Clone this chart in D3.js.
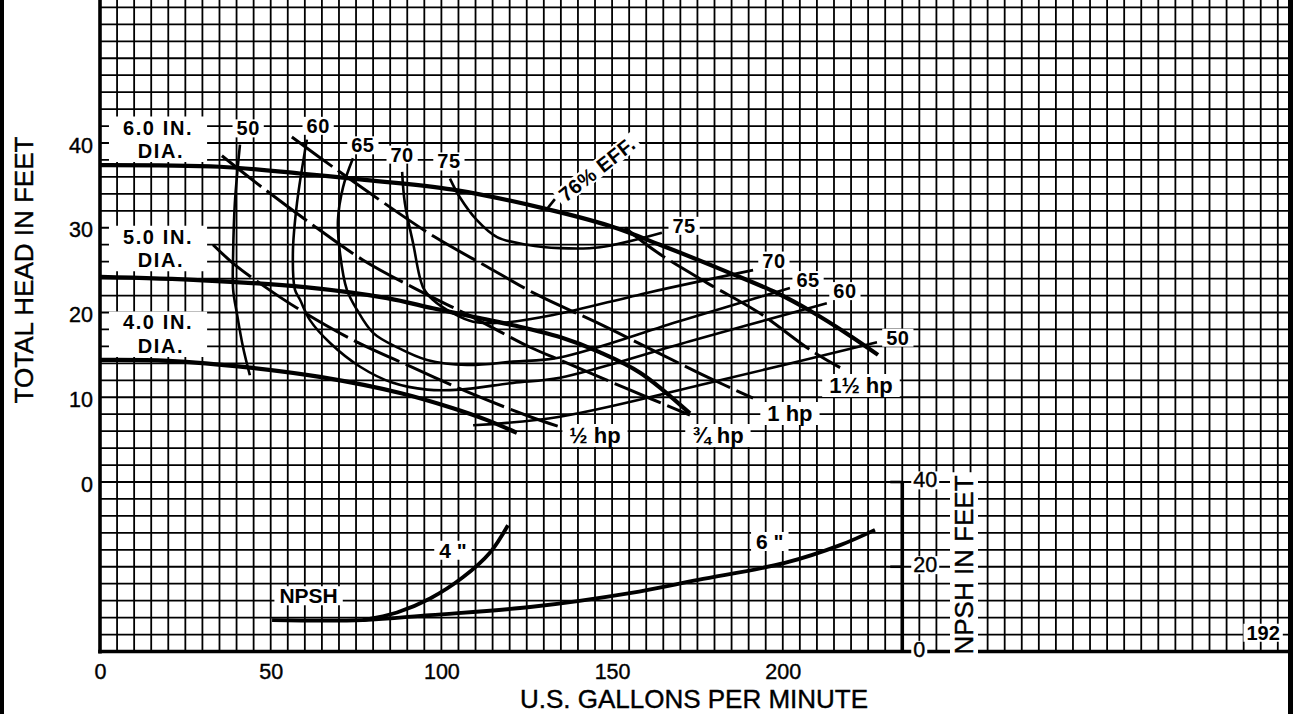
<!DOCTYPE html>
<html>
<head>
<meta charset="utf-8">
<script src="https://cdn.jsdelivr.net/npm/d3@7"></script>
<style>
  body { margin: 0; background: #fff; }
  svg { display: block; }
</style>
</head>
<body>
<script>

// ==== Data: flow in U.S. gpm, head and NPSH in feet ====

var flowTicks = [0, 50, 100, 150, 200],
    headTicks = [0, 10, 20, 30, 40],
    npshTicks = [0, 20, 40];

// impeller head curves
var head6in = [[0,37.4],[35.1,37.2],[58.6,36.4],[76.2,35.7],[103.4,34.5],[130.9,32.2],[149.4,30.2],[164.0,28.0],[183.7,24.8],[198.3,22.3],[208.0,20.2],[218.8,17.5],[227.9,15.0]];
var head5in = [[0,24.2],[30,23.8],[60,23.0],[84.1,21.7],[97.5,20.5],[109.3,19.5],[121.0,18.5],[134.7,17.1],[146.5,15.3],[158.2,12.9],[172.8,8.1]];
var head4in = [[0,14.4],[20,14.3],[43.9,13.5],[64.4,12.4],[87.9,10.5],[103.4,8.7],[113.4,7.3],[122.1,5.8]];

// horsepower lines (dashed)
var hpHalf = [[33.1,28.0],[39.0,25.8],[47.7,23.2],[58.6,20.3],[75.3,16.5],[91.7,13.5],[107.8,10.6],[126.0,7.7],[134.7,6.5]];
var hpThreeQ = [[35.7,38.5],[47.7,34.7],[62.4,30.3],[77.0,26.2],[92.9,22.7],[108.4,19.6],[126.0,15.9],[134.7,14.4],[153.8,11.1],[172.8,7.9]];
var hpOne = [[56.2,40.7],[68.8,37.0],[82.9,33.0],[98.1,28.9],[113.4,25.4],[128.0,22.1],[145.6,18.8],[163.2,15.3],[177.8,12.4],[191.3,9.9]];
var hpOneHalf = [[153.8,30.0],[163.2,27.1],[177.8,23.5],[193.3,19.9],[208.0,15.6],[216.8,13.5]];

// efficiency lines
var eff50a = [[41.0,39.8],[39.5,32.9],[39.0,27.0],[39.0,22.7],[40.1,19.9],[41.9,15.9],[43.9,12.6]];
var eff50b = [[109.3,6.7],[134.7,7.7],[181.6,12.0],[227.6,16.5]];
var eff60 = [[60.6,40.4],[57.7,32.9],[56.5,27.0],[57.1,22.7],[58.6,21.5],[61.5,19.1],[67.4,16.4],[76.2,13.6],[85.8,11.7],[95.8,10.9],[105.4,10.9],[121.0,11.7],[134.7,12.3],[172.8,16.6],[212.9,21.1]];
var eff65 = [[74.1,38.2],[71.2,34.8],[69.7,30.9],[70.3,27.0],[72.3,22.7],[75.3,20.3],[80.0,17.6],[87.0,15.9],[95.8,14.4],[107.5,13.8],[121.0,14.2],[134.7,14.7],[169.9,19.0],[202.1,22.9]];
var eff70 = [[88.5,36.6],[89.3,32.9],[91.7,28.2],[94.6,23.0],[97.5,21.5],[103.4,19.9],[109.3,18.9],[118.0,18.8],[132.7,19.7],[161.1,22.4],[191.3,25.0]];
var eff75 = [[102.5,35.8],[105.4,33.6],[110.4,30.9],[116.3,28.9],[125.1,28.0],[134.7,27.6],[146.5,27.7],[164.6,29.4]];
var bestEff = [130.9, 32.2];

// NPSH curves (NPSH scale)
var npsh6in = [[50.4,7.4],[77.0,7.4],[96.7,8.6],[126.0,10.5],[155.2,13.8],[175.2,16.9],[200.6,20.9],[216.8,25.1],[227.0,28.7]];
var npsh4in = [[77.0,7.4],[87.0,9.2],[96.7,12.5],[106.3,17.5],[114.2,23.3],[119.5,29.8]];

// labels, anchored in data units (flow, head)
var diaText = [["6.0 IN.", "DIA."], ["5.0 IN.", "DIA."], ["4.0 IN.", "DIA."]],
    diaAt = [[17.0, 41.0], [17.0, 28.1], [17.0, 18.0]];
var effText = ["50", "60", "65", "70", "75", "75", "70", "65", "60", "50"],
    effAt = [[43.4,40.9],[63.9,41.2],[77.0,38.9],[88.5,37.8],[102.2,37.0],[171.1,29.4],[197.4,25.3],[207.4,23.0],[218.2,21.7],[233.7,16.2]];
var hpText = ["\u00bd hp", "\u00be hp", "1 hp", "1\u00bd hp"],
    hpAt = [[145.0,4.6],[181.0,4.6],[202.1,7.2],[222.9,10.5]];
var npshText = ["NPSH", "4 \"", "6 \""],
    npshAt = [[61.1,11.4],[103.4,22.1],[196.2,24.2]];


// ==== Canvas ====
var FONT = '"Liberation Sans", Arial, Helvetica, sans-serif';
var W = 1293, H = 714;

var svg = d3.select("body").append("svg")
    .attr("width", W)
    .attr("height", H);

var x = d3.scaleLinear().domain([0, 345]).range([100, 1277.8]);
var y = d3.scaleLinear().domain([-20, 56]).range([651.5, 7.4]);
var yN = d3.scaleLinear().domain([0, 40]).range([651.5, 482]);

var gGrid = svg.append("g"),
    gAxes = svg.append("g"),
    gBox = svg.append("g"),
    gCurves = svg.append("g"),
    gText = svg.append("g");

// white box behind a text (works for rotated text too)
function boxFor(node, px, py) {
    var b = node.getBBox(), m = node.getCTM(), root = node.ownerSVGElement;
    var pts = [[b.x - px, b.y - py], [b.x + b.width + px, b.y - py],
               [b.x + b.width + px, b.y + b.height + py], [b.x - px, b.y + b.height + py]]
        .map(function(p) {
            var pt = root.createSVGPoint();
            pt.x = p[0]; pt.y = p[1];
            pt = pt.matrixTransform(m);
            return pt.x + "," + pt.y;
        });
    gBox.append("polygon").attr("points", pts.join(" ")).attr("fill", "white");
}


// --- page frame ---
svg.append("rect").attr("x", 0).attr("y", 0).attr("width", 4).attr("height", H).attr("fill", "black");
svg.append("rect").attr("x", 1288).attr("y", 0).attr("width", 5).attr("height", H).attr("fill", "black");


// --- grid ---
gGrid.selectAll(".vg")
    .data(d3.range(5, 346, 5))
    .enter().append("line")
    .attr("x1", function(d) { return x(d); })
    .attr("x2", function(d) { return x(d); })
    .attr("y1", 0)
    .attr("y2", y(-20))
    .attr("stroke", "black")
    .attr("stroke-width", 1.8);

gGrid.selectAll(".hg")
    .data(d3.range(-18, 57, 2))
    .enter().append("line")
    .attr("x1", x(0))
    .attr("x2", 1290)
    .attr("y1", function(d) { return y(d); })
    .attr("y2", function(d) { return y(d); })
    .attr("stroke", "black")
    .attr("stroke-width", 1.8);


// --- axis lines ---
gAxes.append("line")
    .attr("x1", x(0)).attr("x2", x(0))
    .attr("y1", 0).attr("y2", y(-20) + 2)
    .attr("stroke", "black").attr("stroke-width", 3.6);

gAxes.append("line")
    .attr("x1", x(0) - 1.8).attr("x2", 1290)
    .attr("y1", y(-20)).attr("y2", y(-20))
    .attr("stroke", "black").attr("stroke-width", 3.6);

// NPSH axis
gAxes.append("line")
    .attr("x1", x(235)).attr("x2", x(235))
    .attr("y1", yN(40) - 1).attr("y2", yN(0))
    .attr("stroke", "black").attr("stroke-width", 3.6);

gAxes.selectAll(".ntick")
    .data([20, 40])
    .enter().append("line")
    .attr("x1", x(235) - 12).attr("x2", x(235))
    .attr("y1", function(d) { return yN(d); })
    .attr("y2", function(d) { return yN(d); })
    .attr("stroke", "black").attr("stroke-width", 2.6);


// --- tick labels via d3 axes ---
var xAxis = d3.axisBottom(x).tickValues(flowTicks).tickSize(0).tickPadding(12.5);
gText.append("g")
    .attr("transform", "translate(0," + y(-20) + ")")
    .call(xAxis)
    .call(function(g) { g.select(".domain").remove(); })
    .attr("font-size", 21.5)
    .attr("font-family", FONT)
    .selectAll("text").attr("stroke", "black").attr("stroke-width", 0.4);

var yAxis = d3.axisLeft(y).tickValues(headTicks).tickSize(0).tickPadding(7);
gText.append("g")
    .attr("transform", "translate(" + x(0) + ",0)")
    .call(yAxis)
    .call(function(g) { g.select(".domain").remove(); })
    .attr("font-size", 21.5)
    .attr("font-family", FONT)
    .selectAll("text").attr("dy", "0.42em").attr("stroke", "black").attr("stroke-width", 0.4);

var nAxis = d3.axisRight(yN).tickValues(npshTicks).tickSize(0).tickPadding(11);
var nAxisG = gText.append("g")
    .attr("transform", "translate(" + x(235) + ",-2)")
    .call(nAxis)
    .call(function(g) { g.select(".domain").remove(); })
    .attr("font-size", 21.5)
    .attr("font-family", FONT);
nAxisG.selectAll("text").attr("stroke", "black").attr("stroke-width", 0.4)
    .each(function() { boxFor(this, 2, -3); });


// --- axis titles ---
gText.append("text")
    .text("U.S. GALLONS PER MINUTE")
    .attr("x", 694)
    .attr("y", 708)
    .attr("text-anchor", "middle")
    .attr("font-family", FONT)
    .attr("font-size", 26)
    .attr("stroke", "black").attr("stroke-width", 0.4);

gText.append("text")
    .text("TOTAL HEAD IN FEET")
    .attr("transform", "translate(33,270) rotate(-90)")
    .attr("text-anchor", "middle")
    .attr("font-family", FONT)
    .attr("font-size", 26)
    .attr("stroke", "black").attr("stroke-width", 0.4);

gText.append("text")
    .text("NPSH IN FEET")
    .attr("transform", "translate(973,565) rotate(-90)")
    .attr("text-anchor", "middle")
    .attr("font-family", FONT)
    .attr("font-size", 26)
    .attr("stroke", "black").attr("stroke-width", 0.4)
    .each(function() { boxFor(this, 3, -1); });


// --- curves ---
var line = d3.line()
    .x(function(d) { return x(d[0]); })
    .y(function(d) { return y(d[1]); })
    .curve(d3.curveCatmullRom.alpha(0.5));

var lineN = d3.line()
    .x(function(d) { return x(d[0]); })
    .y(function(d) { return yN(d[1]); })
    .curve(d3.curveCatmullRom.alpha(0.5));

[eff50a, eff50b, eff60, eff65, eff70, eff75].forEach(function(c) {
    gCurves.append("path")
        .attr("d", line(c))
        .attr("fill", "none")
        .attr("stroke", "black")
        .attr("stroke-width", 2.6);
});

[hpHalf, hpThreeQ, hpOne, hpOneHalf].forEach(function(c) {
    gCurves.append("path")
        .attr("d", line(c))
        .attr("fill", "none")
        .attr("stroke", "black")
        .attr("stroke-width", 3)
        .attr("stroke-dasharray", "50,7");
});

[head6in, head5in, head4in].forEach(function(c) {
    gCurves.append("path")
        .attr("d", line(c))
        .attr("fill", "none")
        .attr("stroke", "black")
        .attr("stroke-width", 4.2);
});

[npsh6in, npsh4in].forEach(function(c) {
    gCurves.append("path")
        .attr("d", lineN(c))
        .attr("fill", "none")
        .attr("stroke", "black")
        .attr("stroke-width", 3.8);
});

// best efficiency tick
gCurves.append("line")
    .attr("x1", x(bestEff[0])).attr("y1", y(bestEff[1]))
    .attr("x2", x(bestEff[0]) + 8).attr("y2", y(bestEff[1]) - 10)
    .attr("stroke", "black").attr("stroke-width", 2.6);


// --- labels ---
diaText.forEach(function(t, i) {
    var g = gText.append("g");
    g.append("text")
        .text(t[0])
        .attr("x", x(diaAt[i][0]))
        .attr("y", y(diaAt[i][1]))
        .attr("text-anchor", "middle")
        .attr("font-family", FONT)
        .attr("font-size", 20)
        .attr("font-weight", 700)
        .attr("letter-spacing", 1.6);
    g.append("text")
        .text(t[1])
        .attr("x", x(diaAt[i][0]) + 3)
        .attr("y", y(diaAt[i][1]) + 23.5)
        .attr("text-anchor", "middle")
        .attr("font-family", FONT)
        .attr("font-size", 20)
        .attr("font-weight", 700)
        .attr("letter-spacing", 1.6);
    boxFor(g.node(), 14, 0);
});

effText.forEach(function(t, i) {
    gText.append("text")
        .text(t)
        .attr("x", x(effAt[i][0]))
        .attr("y", y(effAt[i][1]))
        .attr("text-anchor", "middle")
        .attr("font-family", FONT)
        .attr("font-size", 20)
        .attr("font-weight", 700)
        .attr("letter-spacing", 0.5)
        .each(function() { boxFor(this, 4, -2); });
});

hpText.forEach(function(t, i) {
    gText.append("text")
        .text(t)
        .attr("x", x(hpAt[i][0]))
        .attr("y", y(hpAt[i][1]))
        .attr("text-anchor", "middle")
        .attr("font-family", FONT)
        .attr("font-size", 22)
        .attr("font-weight", 700)
        .each(function() { boxFor(this, 7, -1); });
});

npshText.forEach(function(t, i) {
    gText.append("text")
        .text(t)
        .attr("x", x(npshAt[i][0]))
        .attr("y", yN(npshAt[i][1]))
        .attr("text-anchor", "middle")
        .attr("font-family", FONT)
        .attr("font-size", 21)
        .attr("font-weight", 700)
        .each(function() { boxFor(this, 5, -2); });
});

gText.append("text")
    .text("76% EFF.")
    .attr("transform", "translate(" + x(145.6) + "," + y(36.9) + ") rotate(-38)")
    .attr("dy", "0.35em")
    .attr("text-anchor", "middle")
    .attr("font-family", FONT)
    .attr("font-size", 20)
    .attr("font-weight", 700)
    .attr("letter-spacing", 0.5)
    .each(function() { boxFor(this, 4, -2); });

gText.append("text")
    .text("192")
    .attr("x", x(340.7))
    .attr("y", y(-18.6))
    .attr("text-anchor", "middle")
    .attr("font-family", FONT)
    .attr("font-size", 20)
    .attr("font-weight", 700)
    .each(function() { boxFor(this, 3, -2); });

</script>
</body>
</html>
